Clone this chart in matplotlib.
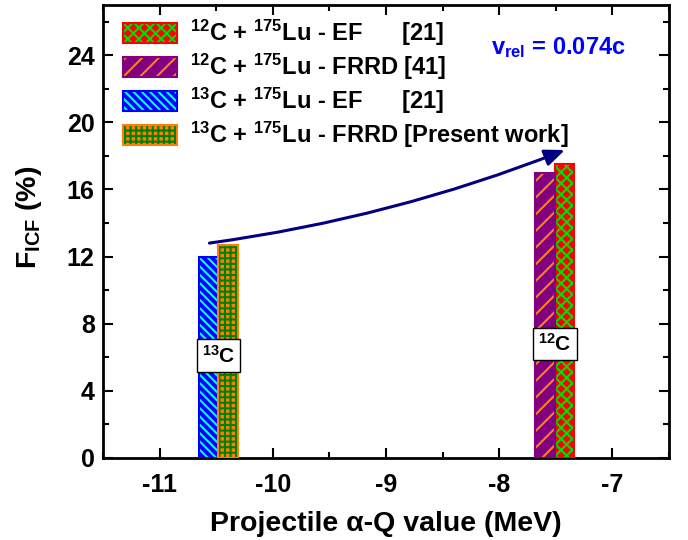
import matplotlib
matplotlib.use('Agg')
import matplotlib.pyplot as plt
from matplotlib.patches import Patch, FancyArrowPatch
from matplotlib.legend_handler import HandlerTuple
from matplotlib.ticker import MultipleLocator

plt.rcParams['font.family'] = 'Liberation Sans'
plt.rcParams['font.weight'] = 'bold'
plt.rcParams['axes.labelweight'] = 'bold'
plt.rcParams['axes.unicode_minus'] = False
plt.rcParams['mathtext.fontset'] = 'custom'
plt.rcParams['mathtext.rm'] = 'Liberation Sans:bold'
plt.rcParams['mathtext.it'] = 'Liberation Sans:bold'
plt.rcParams['mathtext.bf'] = 'Liberation Sans:bold'
plt.rcParams['mathtext.sf'] = 'Liberation Sans:bold'
plt.rcParams['hatch.linewidth'] = 1.5

# projectile alpha-Q values (MeV) and F_ICF (%)
q_13c = -10.48
q_12c = -7.51
labels = [r'$^{12}$C + $^{175}$Lu - EF      [21]',
          r'$^{12}$C + $^{175}$Lu - FRRD [41]',
          r'$^{13}$C + $^{175}$Lu - EF      [21]',
          r'$^{13}$C + $^{175}$Lu - FRRD [Present work]']
positions = [q_12c + 0.085, q_12c - 0.085, q_13c - 0.085, q_13c + 0.085]
f_icf = [17.5, 17.0, 12.0, 12.7]
fills = ['#ff0000', '#800080', '#0000ff', '#ff8000']
hatch_colors = ['#00e000', '#ff8020', '#00ffff', '#008000']
hatches = ['xxx', '//', '\\\\\\\\', '+++']
width = 0.17

fig = plt.figure(figsize=(6.88, 5.4), dpi=100)
ax = fig.add_axes([0.1497, 0.1524, 0.9724 - 0.1497, 0.9907 - 0.1524])

handles = []
for x, h, fc, hc, ht in zip(positions, f_icf, fills, hatch_colors, hatches):
    # hatch drawn with edgecolor, then outline on top in the fill colour
    ax.bar(x, h, width, color=fc, edgecolor=hc, hatch=ht, linewidth=0, zorder=2)
    ax.bar(x, h, width, fill=False, edgecolor=fc, linewidth=1.5, zorder=3)
    handles.append((Patch(facecolor=fc, edgecolor=hc, hatch=ht, linewidth=0),
                    Patch(fill=False, edgecolor=fc, linewidth=1.5)))

# order in legend: 12C EF, 12C FRRD, 13C EF, 13C FRRD
leg = ax.legend(handles, labels, handler_map={tuple: HandlerTuple(ndivide=1, pad=0)},
                loc='upper left', bbox_to_anchor=(0.008, 1.005), frameon=False,
                fontsize=17, handlelength=2.3, handleheight=0.95,
                labelspacing=0.16, handletextpad=0.55, borderaxespad=0.25)

ax.text(q_13c, 6.1, r'$^{13}$C', ha='center', va='center', fontsize=15, zorder=5,
        bbox=dict(boxstyle='square,pad=0.25', facecolor='white', edgecolor='black', linewidth=1))
ax.text(q_12c, 6.8, r'$^{12}$C', ha='center', va='center', fontsize=15, zorder=5,
        bbox=dict(boxstyle='square,pad=0.25', facecolor='white', edgecolor='black', linewidth=1))

ax.text(0.685, 0.905, r'v$_{\mathbf{rel}}$ = 0.074c', transform=ax.transAxes,
        color='#0000ff', fontsize=17, ha='left', va='center')

arrow = FancyArrowPatch((-10.56, 12.8), (-7.42, 18.35), connectionstyle='arc3,rad=0.06',
                        arrowstyle='-|>,head_length=12,head_width=5', color='#000080',
                        linewidth=2.2, zorder=4, shrinkA=0, shrinkB=0)
ax.add_patch(arrow)

ax.set_xlim(-11.5, -6.5)
ax.set_ylim(0, 27)
ax.xaxis.set_major_locator(MultipleLocator(1))
ax.xaxis.set_minor_locator(MultipleLocator(0.5))
ax.yaxis.set_major_locator(MultipleLocator(4))
ax.yaxis.set_minor_locator(MultipleLocator(2))
ax.tick_params(which='both', direction='in', top=True, right=True, width=1.5)
ax.tick_params(which='major', length=7, labelsize=18, pad=11)
ax.tick_params(which='minor', length=4)
ax.tick_params(axis='y', pad=6)
for s in ax.spines.values():
    s.set_linewidth(2)

ax.set_xlabel(u'Projectile \u03b1-Q value (MeV)', fontsize=20.5, labelpad=10)
ax.set_ylabel(r'F$_{\mathbf{ICF}}$ (%)', fontsize=20.5)
ax.yaxis.set_label_coords(-0.105, 0.53)

fig.savefig('out.png', dpi=100)
